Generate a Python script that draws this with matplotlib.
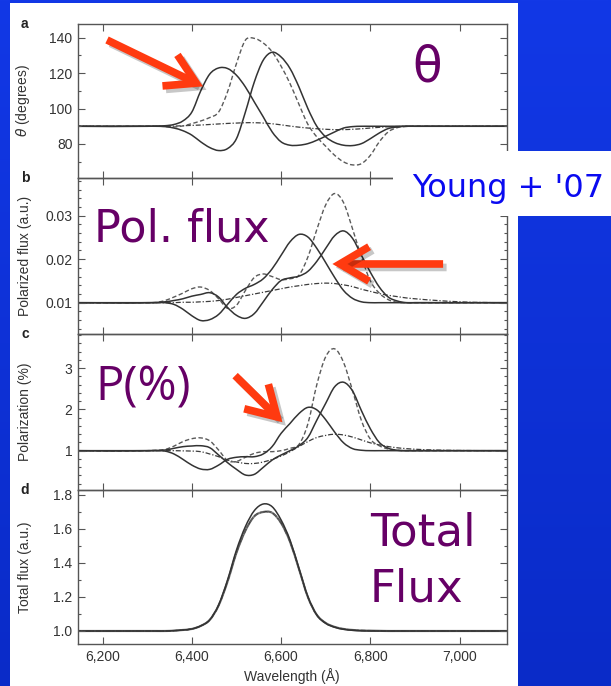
import numpy as np
import matplotlib
matplotlib.use("Agg")
import matplotlib.pyplot as plt
from matplotlib.colors import LinearSegmentedColormap
from matplotlib.patches import Rectangle, PathPatch
from matplotlib.path import Path
from matplotlib.ticker import MultipleLocator, FuncFormatter, FormatStrFormatter
import matplotlib.patheffects as pe

plt.rcParams['font.family'] = ['Liberation Sans', 'DejaVu Sans']

# wavelength samples (Angstrom)
wave = [6140, 6300, 6320, 6340, 6360, 6380, 6400, 6420, 6440, 6460, 6480, 6500,
        6520, 6540, 6560, 6580, 6600, 6620, 6640, 6660, 6680, 6700, 6720, 6740,
        6760, 6780, 6800, 6820, 6840, 6860, 6880, 6900, 6950, 7000, 7110]

# a: polarization angle (degrees)
theta_1 = [90, 90, 90.1, 90.3, 91, 93, 98, 110, 119.4, 122.9, 122.6, 118.8,
           112.2, 103.7, 95.3, 86.8, 81.2, 79.3, 79.3, 80.2, 82.1, 84.4, 86.8, 89,
           89.8, 90, 90, 90, 90, 90, 90, 90, 90, 90, 90]
theta_2 = [90, 90, 90, 89.8, 89, 87.5, 85, 81.2, 78, 76.3, 77.4, 83,
           98, 115, 127.3, 131.8, 129.1, 122.6, 112.2, 100, 90, 84, 80.8, 79.3,
           79.1, 80.2, 83, 86.2, 88.7, 89.6, 90, 90, 90, 90, 90]
theta_dash = [90, 90, 90, 89.9, 89.6, 90.2, 91.5, 93, 94.9, 98, 109.4, 125.4,
              138.6, 139.6, 137, 132, 123.9, 114.1, 102.4, 91.1, 84, 78.7, 73.6, 69.9,
              68.2, 68.9, 73.6, 81.2, 86.8, 89.2, 89.9, 90, 90, 90, 90]
theta_dd = [90, 90, 90, 90, 90.1, 90.3, 90.5, 90.7, 91, 91.3, 91.6, 91.8,
            92, 92, 91.8, 91.4, 90.8, 90.1, 89.5, 89, 88.6, 88.3, 88.1, 88.1,
            88.3, 88.6, 89, 89.4, 89.7, 89.9, 90, 90, 90, 90, 90]

# b: polarized flux (a.u.)
pflux_1 = [.0100, .0100, .0100, .0100, .0096, .0085, .0070, .0059, .0061, .0073, .0096, .0119,
           .0133, .0142, .0155, .0178, .0209, .0240, .0257, .0251, .0225, .0192, .0158, .0128,
           .0110, .0102, .0100, .0100, .0100, .0100, .0100, .0100, .0100, .0100, .0100]
pflux_2 = [.0100, .0100, .01005, .0102, .0105, .0109, .0115, .0119, .0123, .0113, .0089, .0071,
           .0064, .0075, .0102, .0130, .0151, .0157, .0161, .0172, .0195, .0225, .0254, .0265,
           .0248, .0209, .0170, .0136, .0113, .0104, .0100, .0100, .0100, .0100, .0100]
pflux_dash = [.0100, .0100, .01005, .0105, .0113, .0122, .0132, .0136, .0128, .0109, .0087, .0094,
              .0128, .0158, .0166, .0160, .0153, .0155, .0163, .0205, .0268, .0325, .0351, .0330,
              .0270, .0205, .0150, .0122, .0107, .0101, .0100, .0100, .0100, .0100, .0100]
pflux_dd = [.0100, .0100, .0100, .0100, .0100, .0101, .0101, .0102, .0103, .0105, .0108, .0112,
            .0116, .0120, .0124, .0128, .0132, .0136, .0139, .0142, .0144, .0145, .0144, .0141,
            .0137, .0131, .0126, .0121, .0117, .0114, .0111, .0109, .0105, .0102, .0100]

# c: polarization (%)
pol_1 = [1, 1, 1, .99, .92, .79, .65, .555, .547, .65, .79, .84,
         .854, .854, .92, 1.10, 1.42, 1.66, 1.90, 2.05, 1.99, 1.75, 1.45, 1.19,
         1.05, 1.01, 1, 1, 1, 1, 1, 1, 1, 1, 1]
pol_2 = [1, 1, 1.005, 1.016, 1.057, 1.097, 1.113, 1.12, 1.073, .895, .71, .547,
         .41, .426, .595, .773, .895, 1.0, 1.12, 1.32, 1.74, 2.15, 2.55, 2.66,
         2.45, 1.97, 1.53, 1.20, 1.06, 1.01, 1, 1, 1, 1, 1]
pol_dash = [1, 1, 1.01, 1.03, 1.11, 1.22, 1.29, 1.31, 1.24, 1.016, .76, .74,
            .84, .935, .976, .976, 1.0, 1.057, 1.15, 1.65, 2.6, 3.28, 3.47, 3.14,
            2.46, 1.73, 1.28, 1.12, 1.04, 1.01, 1, 1, 1, 1, 1]
pol_dd = [1, 1, 1, 1, 1, .995, .99, .976, .92, .854, .77, .725,
          .69, .69, .725, .79, .87, .976, 1.10, 1.22, 1.32, 1.37, 1.40, 1.38,
          1.33, 1.26, 1.19, 1.14, 1.10, 1.07, 1.05, 1.035, 1.015, 1.005, 1.0]

# d: total flux (a.u.)
flux_1 = [1, 1, 1, 1, 1.002, 1.006, 1.012, 1.03, 1.065, 1.153, 1.30, 1.476,
          1.614, 1.708, 1.747, 1.731, 1.653, 1.535, 1.369, 1.202, 1.094, 1.045, 1.022, 1.01,
          1.004, 1.001, 1, 1, 1, 1, 1, 1, 1, 1, 1]
flux_2 = [1, 1, 1, 1, 1.002, 1.006, 1.012, 1.03, 1.065, 1.15, 1.29, 1.46,
          1.59, 1.675, 1.70, 1.695, 1.635, 1.525, 1.365, 1.20, 1.095, 1.047, 1.024, 1.012,
          1.006, 1.003, 1.002, 1.001, 1, 1, 1, 1, 1, 1, 1]

xticks = [6200, 6400, 6600, 6800, 7000]

W, H = 611, 686
fig = plt.figure(figsize=(W / 100, H / 100), dpi=100)


def fx(x):
    return x / W


def fy(y):
    return 1 - y / H


def curve(ax, xs, ys, **kw):
    # smooth bezier path through the sampled values
    x = np.asarray(xs, float)
    y = np.asarray(ys, float)
    h = np.diff(x)
    d = np.diff(y) / h
    m = np.zeros_like(y)
    m[1:-1] = (d[:-1] * h[1:] + d[1:] * h[:-1]) / (h[:-1] + h[1:])
    verts = [(x[0], y[0])]
    codes = [Path.MOVETO]
    for i in range(len(x) - 1):
        verts += [(x[i] + h[i] / 3, y[i] + m[i] * h[i] / 3),
                  (x[i + 1] - h[i] / 3, y[i + 1] - m[i + 1] * h[i] / 3),
                  (x[i + 1], y[i + 1])]
        codes += [Path.CURVE4] * 3
    ax.add_patch(PathPatch(Path(verts, codes), fill=False, capstyle='butt', **kw))


# slide background
bg = fig.add_axes([0, 0, 1, 1], zorder=-10)
bg.set_axis_off()
blue = LinearSegmentedColormap.from_list('slide', ['#0a2bc8', '#1238e6'])
grad = np.linspace(0, 1, 256).reshape(-1, 1)
bg.imshow(grad, cmap=blue, origin='lower', extent=[0, 1, 0, 1], aspect='auto')
bg.add_patch(Rectangle((fx(10), 0), fx(518) - fx(10), fy(3), color='white', lw=0))
bg.set_xlim(0, 1)
bg.set_ylim(0, 1)

left, right = 78, 506.5
bounds = [(23.5, 178), (178, 334), (334, 490), (490, 644)]
axes = []
for top, bot in bounds:
    ax = fig.add_axes([fx(left), fy(bot), fx(right) - fx(left), (bot - top) / H])
    ax.patch.set_alpha(0)
    axes.append(ax)

solid = dict(edgecolor='#333333', lw=1.1)
dashed = dict(edgecolor='#5a5a5a', lw=1.0, linestyle=(0, (3.2, 1.8)))
dashdot = dict(edgecolor='#3c3c3c', lw=0.9, linestyle=(0, (4, 1.5, 1, 1.5)))

panels = [
    (theta_1, theta_2, theta_dash, theta_dd),
    (pflux_1, pflux_2, pflux_dash, pflux_dd),
    (pol_1, pol_2, pol_dash, pol_dd),
]
for ax, (s1, s2, sd, sdd) in zip(axes[:3], panels):
    curve(ax, wave, sdd, **dashdot)
    curve(ax, wave, sd, **dashed)
    curve(ax, wave, s1, **solid)
    curve(ax, wave, s2, **solid)

ax_d = axes[3]
curve(ax_d, wave, flux_2, edgecolor='#808080', lw=1.6)
curve(ax_d, wave, flux_2, **dashdot)
curve(ax_d, wave, flux_2, **dashed)
curve(ax_d, wave, flux_1, **solid)

ylims = [(60.8, 148.0), (0.0028, 0.03867), (0.046, 3.83), (0.9235, 1.8294)]
minors = [10, 0.002, 0.2, 0.1]
yticks = [[80, 100, 120, 140], [0.01, 0.02, 0.03], [1, 2, 3], [1.0, 1.2, 1.4, 1.6, 1.8]]
fmts = ['%d', '%.2f', '%d', '%.1f']
ylabels = [r'$\theta$ (degrees)', 'Polarized flux (a.u.)', 'Polarization (%)',
           'Total flux (a.u.)']
tags = ['a', 'b', 'c', 'd']

for i, ax in enumerate(axes):
    ax.set_xlim(6145, 7105)
    ax.set_ylim(*ylims[i])
    ax.set_xticks(xticks)
    ax.set_yticks(yticks[i])
    ax.yaxis.set_minor_locator(MultipleLocator(minors[i]))
    ax.yaxis.set_major_formatter(FormatStrFormatter(fmts[i]))
    ax.tick_params(which='both', direction='in', top=True, right=True,
                   color='#555555', width=0.8, labelsize=10, labelcolor='#333333', pad=4)
    ax.tick_params(which='major', length=5)
    ax.tick_params(which='minor', length=2.5)
    for sp in ax.spines.values():
        sp.set_color('#555555')
        sp.set_linewidth(1.0)
    ax.set_ylabel(ylabels[i], fontsize=10, color='#333333')
    ax.yaxis.set_label_coords(-0.107, 0.5)
    ax.text(-0.124, 1.0, tags[i], transform=ax.transAxes, fontsize=10,
            fontweight='bold', color='#222222', ha='center', va='center')
    if i < 3:
        ax.tick_params(labelbottom=False)

ax_d.xaxis.set_major_formatter(FuncFormatter(lambda v, p: f'{int(v):,}'))
ax_d.set_xlabel('Wavelength (Å)', fontsize=10, color='#333333', labelpad=3)

# red arrows
red = '#ff3a10'
shadow = [pe.SimpleLineShadow(offset=(2.5, -2.5), shadow_color='k', alpha=0.22), pe.Normal()]
arrows = [
    (axes[0], (6425, 112.5), (6210, 138.7)),
    (axes[1], (6715, 0.0189), (6963, 0.0189)),
    (axes[2], (6603, 1.69), (6497, 2.82)),
]
for ax, tip, tail in arrows:
    ax.annotate('', xy=tip, xytext=tail, annotation_clip=False,
                arrowprops=dict(arrowstyle='->,head_length=1.05,head_width=0.62',
                                mutation_scale=20, lw=5.5, color=red,
                                shrinkA=0, shrinkB=0, joinstyle='miter',
                                capstyle='butt', path_effects=shadow))

# annotations on the slide
purple = '#660066'
fig.text(fx(427), fy(82), 'θ', fontsize=35, color=purple, ha='center',
         va='baseline', family='DejaVu Sans')
fig.text(fx(94), fy(242), 'Pol. flux', fontsize=32, color=purple, ha='left',
         va='baseline', family='DejaVu Sans')
fig.text(fx(95), fy(400), 'P(%)', fontsize=34, color=purple, ha='left',
         va='baseline', family='Open Sans')
fig.text(fx(370), fy(545), 'Total', fontsize=32.5, color=purple, ha='left',
         va='baseline', family='DejaVu Sans')
fig.text(fx(370), fy(602), 'Flux', fontsize=32.5, color=purple, ha='left',
         va='baseline', family='DejaVu Sans')

fig.patches.append(Rectangle((fx(393), fy(216)), fx(611) - fx(393), (216 - 151) / H,
                             transform=fig.transFigure, color='white', lw=0, zorder=5))
fig.text(fx(412), fy(197), "Young + '07", fontsize=23, color='#0a0af0', ha='left',
         va='baseline', family='DejaVu Sans', zorder=6)

fig.savefig('out.png', dpi=100)
